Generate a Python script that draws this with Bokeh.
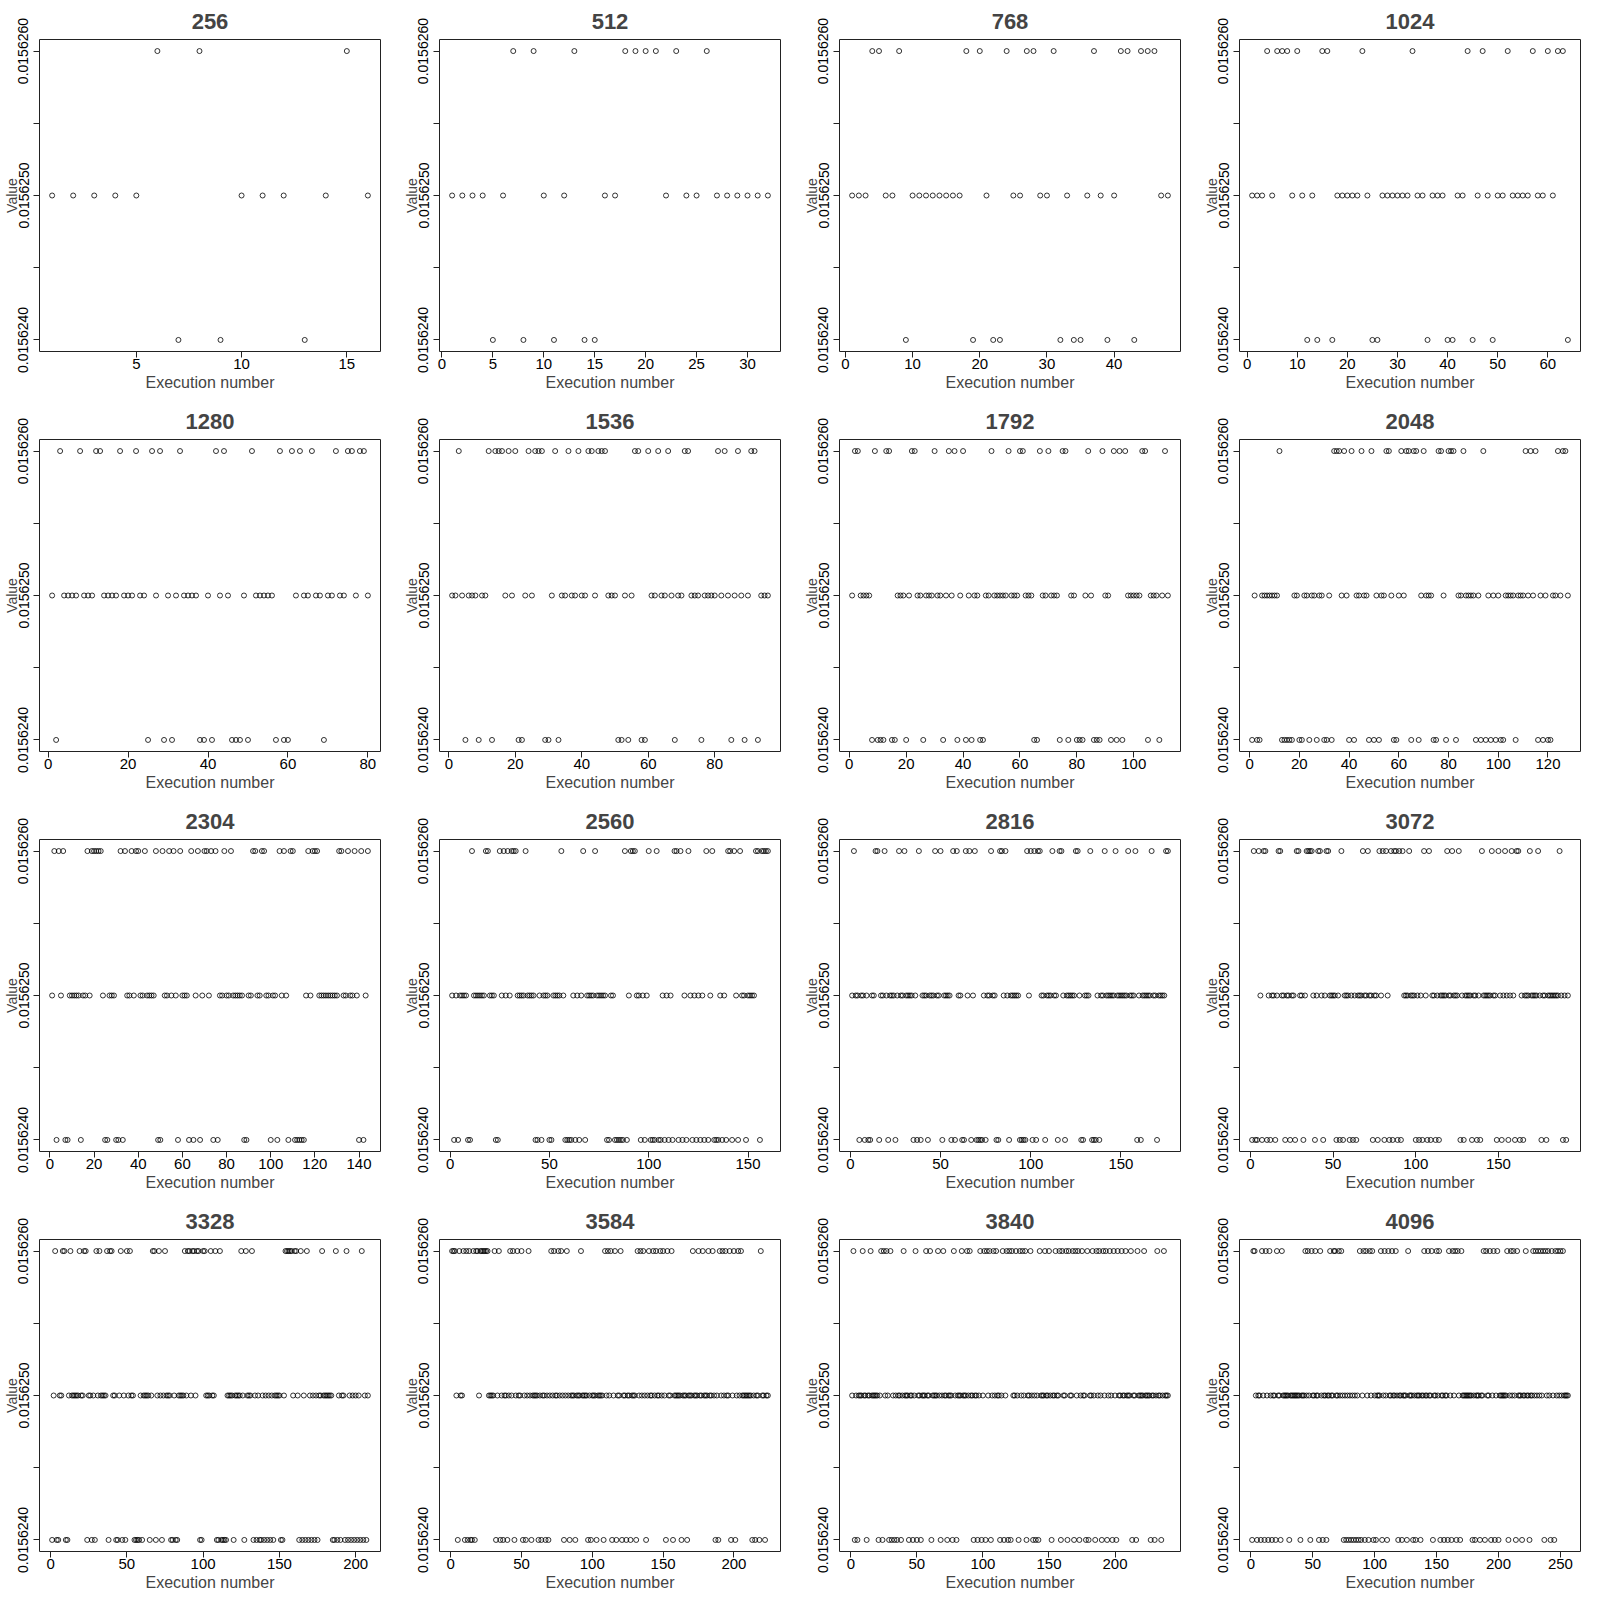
import math
from bokeh.plotting import figure
from bokeh.layouts import gridplot
from bokeh.models import Range1d, FixedTicker, PrintfTickFormatter
from bokeh.embed import file_html
from bokeh.resources import INLINE

# ---------------- data ----------------
sizes = [256, 512, 768, 1024, 1280, 1536, 1792, 2048,
         2304, 2560, 2816, 3072, 3328, 3584, 3840, 4096]
runs = [16, 32, 48, 64, 80, 96, 112, 128,
        144, 160, 176, 192, 208, 224, 240, 256]
xtick_steps = [5, 5, 10, 10, 20, 20, 20, 20, 20, 50, 50, 50, 50, 50, 50, 50]
levels = [0.015624, 0.015625, 0.015626]          # low, middle, high value
y_major_ticks = [0.015624, 0.015625, 0.015626]
y_minor_ticks = [0.0156245, 0.0156255]

# execution numbers whose value is the high (0.015626) / low (0.015624) level;
# every other execution has the middle value 0.015625
high_256 = [6, 8, 15]
low_256 = [7, 9, 13]
high_512 = [7, 9, 13, 18, 19, 20, 21, 23, 26]
low_512 = [5, 8, 11, 14, 15]
high_768 = [4, 5, 8, 18, 20, 24, 27, 28, 31, 37, 41, 42, 44, 45, 46]
low_768 = [9, 19, 22, 23, 32, 34, 35, 39, 43]
high_1024 = [4, 6, 7, 8, 10, 15, 16, 23, 33, 44, 47, 52, 57, 60, 62, 63]
low_1024 = [12, 14, 17, 25, 26, 36, 40, 41, 45, 49, 64]
high_1280 = [3, 8, 12, 13, 18, 22, 26, 28, 33, 42, 44, 51, 58, 61, 63, 66, 72, 75, 76, 78, 79]
low_1280 = [2, 25, 29, 31, 38, 39, 41, 46, 47, 48, 50, 57, 59, 60, 69]
high_1536 = [3, 12, 14, 15, 16, 18, 20, 24, 26, 27, 28, 32, 36, 39, 42, 43, 45, 46, 47,
             56, 57, 60, 63, 66, 71, 72, 81, 83, 87, 91, 92]
low_1536 = [5, 9, 13, 21, 22, 29, 30, 33, 51, 52, 54, 58, 59, 68, 76, 85, 89, 93]
high_1792 = [2, 3, 9, 13, 14, 22, 23, 30, 35, 37, 40, 50, 56, 60, 61, 67, 70, 75, 76,
             84, 89, 93, 95, 97, 103, 104, 111]
low_1792 = [8, 10, 11, 12, 15, 16, 20, 26, 33, 38, 41, 43, 46, 47, 65, 66, 74, 77, 80,
            81, 82, 86, 87, 88, 92, 94, 96, 105, 109]
high_2048 = [12, 34, 35, 36, 38, 41, 45, 49, 55, 56, 61, 63, 64, 66, 67, 70, 76, 77, 80,
             81, 82, 86, 94, 111, 113, 115, 124, 126, 127]
low_2048 = [1, 3, 4, 13, 14, 15, 16, 17, 20, 21, 24, 27, 30, 31, 33, 40, 42, 48, 50, 52,
            58, 59, 65, 68, 74, 75, 79, 83, 91, 93, 95, 97, 99, 101, 102, 107, 116, 118,
            120, 121]
high_2304 = [2, 4, 6, 17, 19, 20, 21, 22, 23, 32, 34, 37, 39, 40, 43, 48, 51, 54, 56, 59,
             64, 67, 70, 71, 73, 75, 79, 82, 92, 93, 96, 97, 104, 106, 109, 110, 117, 119,
             120, 121, 131, 132, 135, 138, 141, 144]
low_2304 = [3, 7, 8, 14, 25, 26, 30, 31, 33, 49, 50, 58, 63, 65, 68, 74, 76, 88, 89, 100,
            103, 108, 111, 112, 113, 114, 115, 140, 142]
high_2560 = [11, 18, 19, 25, 27, 29, 31, 32, 33, 38, 56, 67, 73, 88, 91, 92, 93, 100, 104,
             113, 114, 116, 120, 129, 132, 140, 141, 143, 146, 154, 155, 157, 158, 159, 160]
low_2560 = [2, 4, 9, 10, 23, 24, 43, 44, 46, 50, 51, 58, 59, 60, 61, 63, 65, 68, 79, 80,
            83, 84, 85, 86, 87, 89, 96, 98, 101, 102, 103, 105, 106, 108, 110, 112, 115,
            117, 119, 122, 124, 126, 128, 130, 133, 134, 135, 137, 139, 142, 145, 149, 156]
high_2816 = [2, 14, 15, 19, 27, 30, 38, 47, 50, 57, 59, 64, 66, 69, 78, 83, 84, 86, 98,
             100, 102, 104, 105, 112, 116, 117, 125, 126, 133, 141, 147, 154, 158, 167,
             175, 176]
low_2816 = [5, 8, 10, 11, 16, 21, 25, 35, 37, 39, 43, 51, 56, 58, 62, 63, 67, 70, 71, 72,
            73, 75, 81, 82, 88, 94, 95, 96, 97, 101, 103, 108, 115, 119, 128, 129, 134,
            135, 136, 138, 159, 161, 170]
high_3072 = [2, 5, 8, 9, 17, 18, 28, 29, 34, 35, 36, 37, 41, 42, 46, 47, 55, 68, 71, 78,
             80, 82, 85, 87, 88, 90, 92, 96, 105, 108, 119, 122, 126, 140, 146, 150, 154,
             158, 161, 162, 169, 174, 187]
low_3072 = [1, 3, 4, 7, 10, 12, 15, 21, 24, 27, 32, 39, 44, 52, 54, 56, 60, 62, 64, 74,
            77, 81, 84, 86, 89, 91, 100, 102, 104, 107, 109, 112, 114, 127, 129, 134, 137,
            139, 149, 152, 156, 160, 163, 165, 176, 179, 189, 191]
high_3328 = [3, 8, 9, 13, 19, 22, 23, 30, 32, 37, 39, 40, 46, 50, 52, 67, 68, 71, 75, 88,
             90, 91, 93, 94, 96, 97, 100, 101, 105, 108, 111, 125, 128, 132, 154, 155, 156,
             157, 158, 160, 161, 164, 168, 178, 187, 194, 204]
low_3328 = [1, 4, 5, 10, 11, 24, 27, 29, 38, 43, 44, 47, 49, 55, 56, 57, 58, 60, 65, 69,
            73, 79, 80, 82, 83, 98, 99, 109, 110, 112, 113, 114, 115, 120, 127, 133, 135,
            137, 138, 140, 142, 144, 146, 151, 152, 163, 165, 167, 169, 171, 173, 175, 185,
            186, 188, 190, 193, 195, 197, 199, 201, 203, 205, 207]
high_3584 = [1, 2, 3, 6, 9, 11, 13, 16, 18, 19, 21, 22, 23, 24, 25, 26, 31, 34, 42, 44, 47,
             50, 55, 71, 73, 76, 78, 82, 92, 109, 111, 113, 116, 120, 132, 134, 136, 140,
             143, 145, 148, 150, 153, 156, 171, 175, 178, 182, 185, 190, 192, 194, 197,
             200, 203, 205, 219]
low_3584 = [5, 10, 12, 14, 15, 17, 32, 35, 37, 40, 45, 51, 53, 57, 62, 64, 67, 69, 80, 84,
            88, 97, 99, 103, 108, 114, 117, 121, 124, 127, 131, 138, 152, 157, 163, 167,
            187, 189, 198, 201, 213, 215, 218, 222]
high_3840 = [2, 9, 15, 23, 25, 27, 30, 40, 49, 57, 60, 66, 70, 78, 84, 88, 90, 98, 101,
             103, 105, 108, 110, 115, 118, 120, 122, 125, 128, 130, 132, 136, 143, 147,
             150, 155, 158, 160, 163, 165, 168, 170, 172, 175, 179, 183, 186, 188, 191,
             193, 196, 199, 202, 205, 208, 212, 217, 222, 232, 237]
low_3840 = [3, 5, 12, 21, 24, 29, 31, 33, 35, 38, 44, 47, 50, 53, 61, 68, 73, 77, 80, 93,
            96, 99, 102, 106, 113, 116, 119, 121, 127, 133, 138, 140, 142, 152, 159, 164,
            169, 173, 178, 180, 185, 190, 194, 198, 201, 213, 216, 227, 230, 235]
high_4096 = [2, 3, 9, 12, 15, 21, 25, 44, 46, 49, 52, 56, 64, 67, 68, 71, 73, 88, 91, 93,
             96, 98, 105, 108, 111, 114, 117, 127, 140, 143, 146, 150, 152, 160, 163, 165,
             167, 170, 188, 190, 193, 196, 199, 207, 210, 212, 215, 222, 228, 230, 232, 234,
             236, 238, 240, 243, 246, 248, 250, 252]
low_4096 = [1, 5, 8, 11, 14, 17, 20, 24, 31, 40, 48, 55, 58, 61, 75, 77, 79, 81, 83, 85,
            87, 89, 92, 95, 99, 101, 106, 110, 119, 122, 126, 131, 133, 137, 147, 153, 156,
            159, 162, 166, 169, 179, 181, 185, 189, 194, 197, 200, 208, 214, 219, 225, 237,
            242, 245]

highs = [high_256, high_512, high_768, high_1024, high_1280, high_1536, high_1792, high_2048,
         high_2304, high_2560, high_2816, high_3072, high_3328, high_3584, high_3840, high_4096]
lows = [low_256, low_512, low_768, low_1024, low_1280, low_1536, low_1792, low_2048,
        low_2304, low_2560, low_2816, low_3072, low_3328, low_3584, low_3840, low_4096]

# ---------------- drawing ----------------
FONT = "Liberation Sans"
INK = "#222222"
figs = []
yspan = levels[2] - levels[0]
for k, (size, n) in enumerate(zip(sizes, runs)):
    hi = set(highs[k])
    lo = set(lows[k])
    xs = list(range(1, n + 1))
    ys = [levels[2] if i in hi else (levels[0] if i in lo else levels[1]) for i in xs]
    pad = 0.04 * (n - 1)
    x0, x1 = 1 - pad, n + pad
    p = figure(width=400, height=400, output_backend="svg", toolbar_location=None, tools="",
               x_range=Range1d(x0, x1),
               y_range=Range1d(levels[0] - 0.04 * yspan, levels[2] + 0.04 * yspan),
               min_border_left=39, min_border_right=20, min_border_top=39, min_border_bottom=49)
    p.background_fill_color = "white"
    p.border_fill_color = "white"
    p.outline_line_color = INK
    p.outline_line_width = 1
    p.xgrid.visible = False
    p.ygrid.visible = False

    p.title.text = str(size)
    p.title.align = "center"
    p.title.vertical_align = "bottom"
    p.title.text_font = FONT
    p.title.text_font_style = "bold"
    p.title.text_font_size = "22px"
    p.title.standoff = 21

    step = xtick_steps[k]
    xt = [t for t in range(0, n + step + 1, step) if x0 <= t <= x1]
    xa = p.xaxis[0]
    xa.ticker = FixedTicker(ticks=xt, minor_ticks=[])
    xa.axis_line_color = None
    xa.major_tick_out = 6
    xa.major_tick_in = 0
    xa.major_tick_line_color = INK
    xa.major_label_standoff = 1
    xa.major_label_text_font = FONT
    xa.major_label_text_font_size = "15px"
    xa.major_label_text_color = "black"
    xa.axis_label = "Execution number"
    xa.axis_label_text_font = FONT
    xa.axis_label_text_font_style = "normal"
    xa.axis_label_text_font_size = "16px"
    xa.axis_label_standoff = 2

    ya = p.yaxis[0]
    ya.ticker = FixedTicker(ticks=y_major_ticks, minor_ticks=y_minor_ticks)
    ya.formatter = PrintfTickFormatter(format="%.7f")
    ya.axis_line_color = None
    ya.major_tick_out = 6
    ya.major_tick_in = 0
    ya.minor_tick_out = 6
    ya.minor_tick_in = 0
    ya.major_tick_line_color = INK
    ya.minor_tick_line_color = INK
    ya.major_label_orientation = "vertical"
    ya.major_label_standoff = 5
    ya.major_label_text_font = FONT
    ya.major_label_text_font_size = "14px"
    ya.major_label_text_color = "black"
    ya.axis_label = "Value"
    ya.axis_label_text_font = FONT
    ya.axis_label_text_font_style = "normal"
    ya.axis_label_text_font_size = "14px"
    ya.axis_label_standoff = -4

    p.scatter(xs, ys, marker="circle", size=5, fill_color=None,
              line_color="black", line_width=0.8)
    figs.append(p)

grid = gridplot(figs, ncols=4, toolbar_location=None)
open("out.html", "w").write(file_html(grid, INLINE))
